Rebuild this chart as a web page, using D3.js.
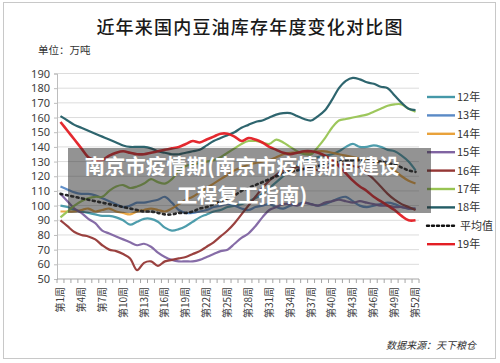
<!DOCTYPE html>
<html>
<head>
<meta charset="utf-8">
<script src="https://cdn.jsdelivr.net/npm/d3@7"></script>
<style>
    body { margin: 0; background: #fff; }
    svg { display: block; font-family: "Noto Sans CJK SC", "Noto Sans", sans-serif; }
</style>
</head>
<body>
<svg id="chart" width="500" height="363"></svg>
<script>
// Chart texts
const title = '近年来国内豆油库存年度变化对比图';
const unitLabel = '单位：万吨';
const sourceLabel = '数据来源：天下粮仓';
const overlayLines = ['南京市疫情期(南京市疫情期间建设', '工程复工指南)'];

// Categories: week 1..52, labels every 3 weeks
const weeks = d3.range(1, 53);
const labelWeeks = [1, 4, 7, 10, 13, 16, 19, 22, 25, 28, 31, 34, 37, 40, 43, 46, 49, 52];
const yTicks = [50, 60, 70, 80, 90, 100, 110, 120, 130, 140, 150, 160, 170, 180, 190];

// Series values (万吨)
const s12 = [100, 99, 97, 96, 95, 94, 93, 93, 92, 90, 87, 89, 91, 91, 89, 85, 83, 84, 86, 89,
    92, 94, 96, 97, 99, 100, 101, 103, 105, 108, 112, 116, 120, 124, 127, 130, 132, 133, 134, 135,
    137, 140, 142, 140, 140, 141, 140, 138, 137, 134, 130, 124];
const s13 = [113, 111, 109, 108, 108, 107, 105, 103, 101, 99, 100, 102, 102, 103, 104, 106, 102, 97, 95, 95,
    96, 97, 99, 100, 101, 100, 98, 97, 99, 100, 101, 99, 98, 100, 101, 102, 101, 100, 101, 103,
    105, 106, 103, 100, 99, 100, 101, 102, 101, 99, 98, 98];
const s14 = [96, 96, 96, 97, 98, 96, 97, 98, 96, 95, 94, 96, 97, 98, 97, 96, 98, 101, 104, 106,
    109, 112, 115, 118, 121, 124, 126, 128, 129, 130, 131, 133, 135, 136, 136, 136, 136, 137, 137, 136,
    135, 134, 133, 132, 131, 130, 129, 127, 124, 120, 117, 115];
const s15 = [108, 103, 98, 95, 91, 88, 83, 81, 79, 77, 75, 73, 74, 72, 68, 65, 63, 62, 62, 62,
    63, 65, 67, 69, 70, 74, 78, 81, 86, 92, 97, 99, 101, 101, 100, 102, 101, 100, 102, 103,
    104, 103, 102, 103, 102, 101, 100, 100, 99, 99, 98, 98];
const s16 = [90, 86, 82, 80, 79, 77, 73, 70, 69, 67, 64, 56, 61, 62, 59, 62, 63, 64, 65, 67,
    69, 72, 75, 79, 83, 88, 94, 100, 106, 112, 117, 121, 124, 125, 126, 125, 126, 124, 125, 127,
    128, 128, 127, 126, 122, 118, 113, 108, 104, 101, 99, 97];
const s17 = [92, 96, 100, 103, 105, 106, 106, 110, 113, 114, 112, 113, 115, 118, 116, 115, 118, 124, 127, 128,
    129, 130, 131, 133, 136, 139, 142, 144, 144, 143, 142, 145, 143, 140, 137, 135, 135, 140, 146, 153,
    158, 159, 160, 161, 162, 164, 166, 168, 169, 169, 166, 164];
const s18 = [161, 158, 155, 153, 151, 149, 147, 145, 143, 141, 140, 140, 140, 139, 137, 136, 135, 135, 136, 137,
    138, 141, 144, 146, 148, 150, 153, 155, 157, 158, 160, 162, 163, 163, 161, 159, 158, 161, 165, 172,
    180, 185, 187, 186, 184, 183, 181, 180, 175, 170, 166, 165];
const sAvg = [108, 107, 106, 105, 104, 103, 102, 101, 100, 99, 98, 97, 96, 96, 95, 94, 94, 95, 95, 96,
    98, 99, 101, 103, 105, 107, 110, 112, 114, 116, 118, 120, 122, 123, 124, 125, 126, 127, 128, 129,
    130, 131, 131, 131, 131, 130, 130, 129, 128, 126, 124, 123];
const s19 = [157, 151, 145, 139, 133, 131, 131, 134, 136, 137, 136, 135, 135, 136, 137, 138, 139, 140, 142, 144,
    143, 145, 147, 149, 149, 147, 144, 146, 145, 143, 140, 138, 136, 135, 136, 137, 137, 136, 134, 131,
    127, 122, 117, 113, 110, 106, 103, 100, 97, 93, 90, 90];

const seriesNames = ['12年', '13年', '14年', '15年', '16年', '17年', '18年', '平均值', '19年'];
const seriesValues = [s12, s13, s14, s15, s16, s17, s18, sAvg, s19];
const seriesColors = ['#4598a8', '#5a8ac6', '#e9a23b', '#8064a2', '#953735', '#98c453', '#235d66', '#111111', '#e31e24'];

const svg = d3.select('#chart');

// Outer frame
svg.append('rect')
    .attr('x', 3.5).attr('y', 2.5)
    .attr('width', 492).attr('height', 356)
    .attr('fill', '#fff')
    .attr('stroke', '#c8c8c8');

// Title and unit
svg.append('text')
    .attr('x', 250).attr('y', 34)
    .attr('text-anchor', 'middle')
    .attr('font-size', 18)
    .attr('font-weight', 500)
    .attr('letter-spacing', 1.2)
    .attr('fill', '#1a1a1a')
    .text(title);

svg.append('text')
    .attr('x', 38).attr('y', 54)
    .attr('font-size', 10.5)
    .attr('fill', '#333')
    .text(unitLabel);

// Scales
const x = d3.scaleBand()
    .domain(weeks)
    .range([57, 419]);

const y = d3.scaleLinear()
    .domain([50, 190])
    .range([279, 73.5]);

const cx = w => x(w) + x.bandwidth() / 2;

// Gridlines
svg.append('g')
    .selectAll('line')
    .data(yTicks.slice(1))
    .enter()
    .append('line')
    .attr('x1', 57).attr('x2', 419)
    .attr('y1', d => y(d)).attr('y2', d => y(d))
    .attr('stroke', '#dcdcdc')
    .attr('stroke-width', 1);

// Y axis
const yAxis = svg.append('g')
    .attr('transform', 'translate(57,0)')
    .call(d3.axisLeft(y).tickValues(yTicks).tickSize(3).tickPadding(4));
yAxis.select('.domain').attr('stroke', '#bdbdbd');
yAxis.selectAll('.tick line').attr('stroke', '#bdbdbd');
yAxis.selectAll('.tick text')
    .attr('font-size', 11)
    .attr('font-family', '"Noto Sans", sans-serif')
    .attr('fill', '#404040');

// X axis line with ticks between categories
const xAxis = svg.append('g');
xAxis.append('line')
    .attr('x1', 57).attr('x2', 419)
    .attr('y1', y(50)).attr('y2', y(50))
    .attr('stroke', '#a6a6a6');
xAxis.selectAll('.xtick')
    .data(weeks.concat([53]))
    .enter()
    .append('line')
    .attr('class', 'xtick')
    .attr('x1', d => d === 53 ? 419 : x(d))
    .attr('x2', d => d === 53 ? 419 : x(d))
    .attr('y1', y(50)).attr('y2', y(50) + 4)
    .attr('stroke', '#a6a6a6');

xAxis.selectAll('.xlabel')
    .data(labelWeeks)
    .enter()
    .append('text')
    .attr('class', 'xlabel')
    .attr('transform', d => `translate(${cx(d) + 3.5},${y(50) + 8}) rotate(-90)`)
    .attr('text-anchor', 'end')
    .attr('font-size', 10)
    .attr('fill', '#404040')
    .text(d => `第${d}周`);

// Lines
const line = d3.line()
    .x((d, i) => cx(weeks[i]))
    .y(d => y(d))
    .curve(d3.curveCatmullRom.alpha(0.5));

const lineGroup = svg.append('g');
seriesValues.forEach((vals, i) => {
    const isAvg = seriesNames[i] === '平均值';
    lineGroup.append('path')
        .datum(vals)
        .attr('d', line)
        .attr('fill', 'none')
        .attr('stroke', seriesColors[i])
        .attr('stroke-width', isAvg ? 2.6 : (seriesNames[i] === '19年' ? 2.6 : 2.2))
        .attr('stroke-dasharray', isAvg ? '2,3.5' : null)
        .attr('stroke-linecap', isAvg ? 'round' : 'butt')
        .attr('stroke-linejoin', 'round')
        .attr('opacity', isAvg ? 0.9 : 0.95);
});

// Legend
const legend = svg.append('g');
seriesNames.forEach((name, i) => {
    const ly = 97 + i * 18.4;
    const isAvg = name === '平均值';
    legend.append('line')
        .attr('x1', 427).attr('x2', 455)
        .attr('y1', ly).attr('y2', ly)
        .attr('stroke', seriesColors[i])
        .attr('stroke-width', isAvg ? 2.4 : 2.4)
        .attr('stroke-dasharray', isAvg ? '2,3' : null)
        .attr('stroke-linecap', isAvg ? 'round' : 'butt');
    legend.append('text')
        .attr('x', isAvg ? 460 : 457)
        .attr('y', ly + 4)
        .attr('font-size', 11)
        .attr('fill', '#333')
        .text(name);
});

// Source note
svg.append('text')
    .attr('x', 476).attr('y', 349)
    .attr('text-anchor', 'end')
    .attr('font-size', 10)
    .attr('font-style', 'italic')
    .attr('fill', '#333')
    .text(sourceLabel);

// Overlay banner
svg.append('rect')
    .attr('x', 68).attr('y', 148)
    .attr('width', 363).attr('height', 65)
    .attr('fill', 'rgba(40,40,40,0.5)');

overlayLines.forEach((t, i) => {
    svg.append('text')
        .attr('x', 242)
        .attr('y', 174 + i * 29)
        .attr('text-anchor', 'middle')
        .attr('font-size', 20.5)
        .attr('font-weight', 700)
        .attr('fill', '#fff')
        .text(t);
});
</script>
</body>
</html>
